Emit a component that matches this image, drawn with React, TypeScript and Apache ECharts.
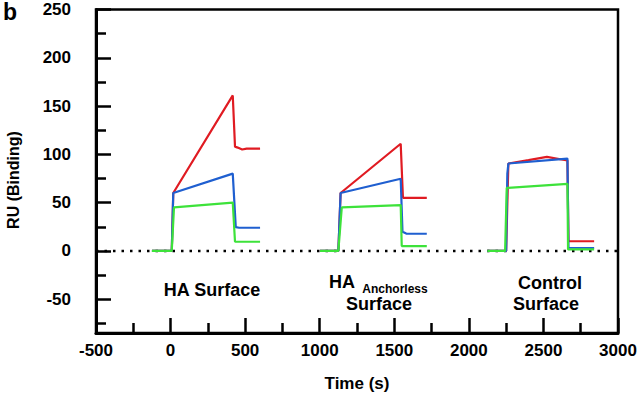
import React, { useEffect, useRef } from "react";
import * as echarts from "echarts";

// Sensorgram traces: [time (s), RU]
const redHA = [[-125, 0], [8, 0], [18, 60], [417, 161], [432, 108], [450, 107], [480, 105], [510, 106], [560, 106], [600, 106]];
const redAnchorless = [[1002, 0], [1125, 0], [1140, 60], [1543, 111], [1558, 55], [1600, 55], [1718, 55]];
const redControl = [[2124, 0], [2250, 0], [2265, 90.5], [2400, 94], [2523, 97.4], [2661, 93.6], [2668, 10], [2840, 10]];

const blueHA = [[-125, 0], [8, 0], [18, 60], [417, 80], [437, 24.6], [460, 24], [600, 24]];
const blueAnchorless = [[1002, 0], [1125, 0], [1140, 60], [1543, 74.7], [1555, 19.8], [1580, 18], [1718, 17.8]];
const blueControl = [[2124, 0], [2250, 0], [2258, 80], [2265, 90.5], [2661, 95.6], [2668, 3.3], [2840, 3]];

const greenHA = [[-125, 0], [8, 0], [23, 45], [417, 50], [432, 9.5], [600, 9.5]];
const greenAnchorless = [[1002, 0], [1125, 0], [1148, 45], [1543, 47.4], [1550, 5], [1718, 5]];
const greenControl = [[2124, 0], [2243, 0], [2254, 65.3], [2661, 69.5], [2665, 1.5], [2840, 1.5]];

const baseline = [[-500, 0], [3000, 0]];

const yMajorTicks = [-50, 0, 50, 100, 150, 200, 250];
const yMinorTicks = [-75, -25, 25, 75, 125, 175, 225];

const RED = "#e01b22";
const BLUE = "#1f5fd0";
const GREEN = "#3de23a";

const FONT = "'Liberation Sans', Arial, Helvetica, sans-serif";

export default function App() {
  const ref = useRef<HTMLDivElement>(null);

  useEffect(() => {
    if (!ref.current) return;
    const chart = echarts.init(ref.current, null, { renderer: "svg" });

    const trace = (data: number[][], color: string) => ({
      type: "line",
      data,
      xAxisIndex: 0,
      yAxisIndex: 0,
      showSymbol: false,
      symbol: "none",
      lineStyle: { color, width: 2.2 },
      silent: true,
      z: 3,
    });

    const labelStyle = {
      fontFamily: FONT,
      fontWeight: "bold",
      fill: "#000",
      textAlign: "center",
      textVerticalAlign: "middle",
    };

    const plain = (v: number) => String(v);

    chart.setOption({
      animation: false,
      backgroundColor: "#fff",
      grid: {
        left: 96,
        right: 22,
        top: 9.5,
        bottom: 71,
        show: true,
        borderColor: "#000",
        borderWidth: 2.5,
        backgroundColor: "transparent",
      },
      xAxis: {
        type: "value",
        min: -500,
        max: 3000,
        interval: 500,
        axisLine: { show: true, onZero: false, lineStyle: { color: "#000", width: 3 } },
        axisTick: { show: true, inside: true, length: 15, lineStyle: { color: "#000", width: 2.5 } },
        minorTick: { show: true, splitNumber: 2, length: 10, lineStyle: { color: "#000", width: 2.5 } },
        axisLabel: { color: "#000", fontSize: 17, fontWeight: "bold", fontFamily: FONT, margin: 9, formatter: plain },
        splitLine: { show: false },
        minorSplitLine: { show: false },
      },
      yAxis: [
        {
          type: "value",
          min: -85,
          max: 250,
          position: "left",
          axisLine: { show: true, onZero: false, lineStyle: { color: "#000", width: 3 } },
          axisTick: {
            show: true,
            inside: true,
            length: 15,
            customValues: yMajorTicks,
            lineStyle: { color: "#000", width: 2.5 },
          },
          axisLabel: {
            color: "#000",
            fontSize: 17,
            fontWeight: "bold",
            fontFamily: FONT,
            margin: 25,
            customValues: yMajorTicks,
            formatter: plain,
          },
          splitLine: { show: false },
        },
        {
          type: "value",
          min: -85,
          max: 250,
          position: "left",
          offset: 0,
          axisLine: { show: false, onZero: false },
          axisTick: {
            show: true,
            inside: true,
            length: 10,
            customValues: yMinorTicks,
            lineStyle: { color: "#000", width: 2.5 },
          },
          axisLabel: { show: false, customValues: yMinorTicks },
          splitLine: { show: false },
        },
      ],
      series: [
        {
          type: "line",
          data: baseline,
          showSymbol: false,
          symbol: "none",
          silent: true,
          lineStyle: { color: "#000", width: 2.5, type: [2.5, 6] },
          z: 2,
        },
        trace(redHA, RED),
        trace(redAnchorless, RED),
        trace(redControl, RED),
        trace(blueHA, BLUE),
        trace(blueAnchorless, BLUE),
        trace(blueControl, BLUE),
        trace(greenHA, GREEN),
        trace(greenAnchorless, GREEN),
        trace(greenControl, GREEN),
      ],
      graphic: [
        { type: "text", x: 10, y: 12, style: { ...labelStyle, text: "b", fontSize: 23 } },
        {
          type: "text",
          x: 13,
          y: 180,
          rotation: Math.PI / 2,
          style: { ...labelStyle, text: "RU (Binding)", fontSize: 16 },
        },
        { type: "text", x: 357, y: 383, style: { ...labelStyle, text: "Time (s)", fontSize: 17 } },
        { type: "text", x: 212, y: 290, style: { ...labelStyle, text: "HA Surface", fontSize: 18 } },
        {
          type: "text",
          x: 329,
          y: 282,
          style: { ...labelStyle, textAlign: "left", text: "HA", fontSize: 18 },
        },
        {
          type: "text",
          x: 395,
          y: 288.5,
          style: { ...labelStyle, text: "Anchorless", fontSize: 12 },
        },
        { type: "text", x: 379, y: 304, style: { ...labelStyle, text: "Surface", fontSize: 18 } },
        { type: "text", x: 550, y: 283, style: { ...labelStyle, text: "Control", fontSize: 18 } },
        { type: "text", x: 546, y: 304, style: { ...labelStyle, text: "Surface", fontSize: 18 } },
      ],
    });

    return () => chart.dispose();
  }, []);

  return (
    <div
      ref={ref}
      style={{ position: "fixed", left: 0, top: 0, width: 640, height: 404, background: "#fff" }}
    />
  );
}
